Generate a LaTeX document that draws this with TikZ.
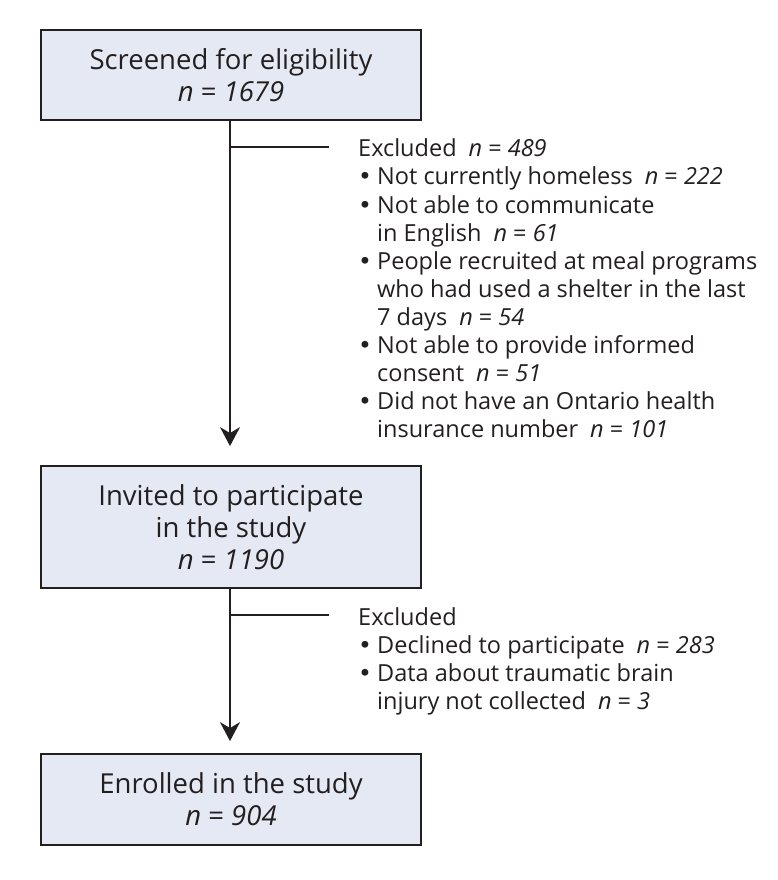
\documentclass[tikz,border=0pt]{standalone}
\usepackage{fontspec}
\setmainfont{Open Sans}
\newfontfamily\bulfont{DejaVu Sans}
\usetikzlibrary{arrows.meta,calc}
\definecolor{boxfill}{RGB}{229,233,243}
\definecolor{ink}{RGB}{35,31,32}
\newcommand{\bul}{\makebox[19pt][l]{{\bulfont •}}}
\newcommand{\ind}{\hspace*{19pt}}
\newcommand{\nn}[1]{\hspace{12pt}\textit{n} = \textit{#1}}
\begin{document}
\begin{tikzpicture}[x=1pt,y=-1pt,
  flowbox/.style={draw=ink,line width=1.8pt,fill=boxfill,minimum width=380pt,inner sep=0pt,align=center,font=\fontsize{27.5}{32}\selectfont,text=ink},
  conn/.style={draw=ink,line width=1.8pt},
  arr/.style={conn,-{Stealth[length=19pt,width=20pt,inset=6pt]}},
  note/.style={anchor=base west,inner sep=0pt,font=\fontsize{23.5}{28}\selectfont,text=ink}]
\useasboundingbox (0,0) rectangle (777,880);
\node[flowbox,minimum height=90pt] (b1) at (231,75) {Screened for eligibility\\\textit{n} = \textit{1679}};
\node[flowbox,minimum height=122pt] (b2) at (231,527) {Invited to participate\\in the study\\\textit{n} = \textit{1190}};
\node[flowbox,minimum height=91pt] (b3) at (231,799.5) {Enrolled in the study\\\textit{n} = \textit{904}};
\coordinate (j1) at (230,147);
\coordinate (e1) at (329,147);
\coordinate (j2) at (230,615);
\coordinate (e2) at (329,615);
\draw[arr,shorten >=19pt] (b1.south -| j1) -- (b2.north -| j1);
\draw[arr,shorten >=12pt] (b2.south -| j2) -- (b3.north -| j2);
\draw[conn] (j1) -- (e1);
\draw[conn] (j2) -- (e2);
\node[note] (x1) at (358,157) {\begin{tabular}[t]{@{}l@{}}
Excluded\nn{489}\\
\bul Not currently homeless\nn{222}\\
\bul Not able to communicate\\
\ind in English\nn{61}\\
\bul People recruited at meal programs\\
\ind who had used a shelter in the last\\
\ind 7 days\nn{54}\\
\bul Not able to provide informed\\
\ind consent\nn{51}\\
\bul Did not have an Ontario health\\
\ind insurance number\nn{101}
\end{tabular}};
\node[note] (x2) at (358,625) {\begin{tabular}[t]{@{}l@{}}
Excluded\\
\bul Declined to participate\nn{283}\\
\bul Data about traumatic brain\\
\ind injury not collected\nn{3}
\end{tabular}};
\end{tikzpicture}
\end{document}
